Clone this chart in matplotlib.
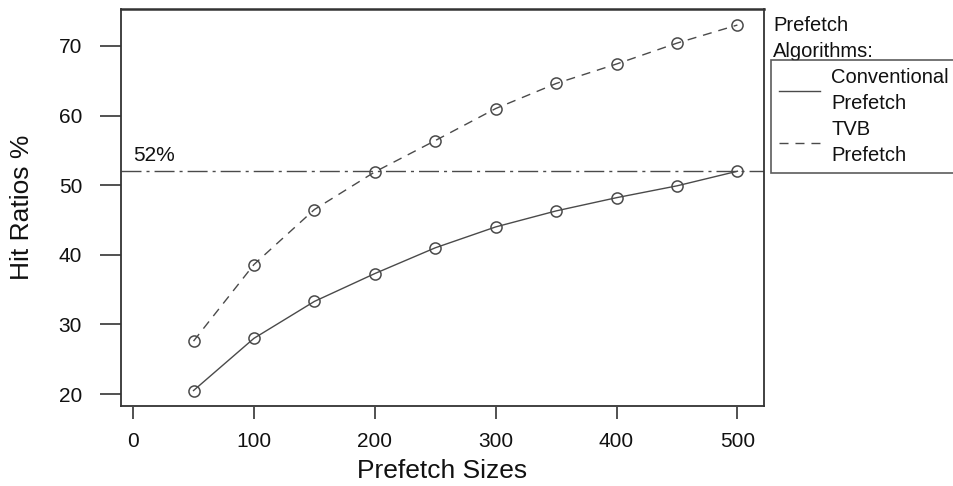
import numpy as np
import matplotlib.pyplot as plt

plt.rcParams['font.family'] = ['Liberation Sans', 'DejaVu Sans']

sizes = [50, 100, 150, 200, 250, 300, 350, 400, 450, 500]
conventional = [20.5, 28.0, 33.3, 37.3, 41.0, 44.0, 46.3, 48.2, 49.9, 52.0]
tvb = [27.6, 38.6, 46.5, 51.9, 56.4, 61.0, 64.6, 67.4, 70.4, 73.0]
x_ticks = [0, 100, 200, 300, 400, 500]
y_ticks = [20, 30, 40, 50, 60, 70]
ref_level = 52

W, H = 954, 486
fig = plt.figure(figsize=(W / 100, H / 100), dpi=100)
ax = fig.add_axes([121 / W, 1 - 406 / H, (764 - 121) / W, (406 - 9) / H])

line_col = '#4a4a4a'
frame_col = '#333333'
text_col = '#111111'

ax.plot(sizes, conventional, '-', color=line_col, lw=1.0, marker='o', ms=8,
        mfc='none', mec=line_col, mew=1.1, label='Conventional\nPrefetch')
ax.plot(sizes, tvb, color=line_col, lw=1.0, ls=(0, (6.5, 5)), marker='o', ms=8,
        mfc='none', mec=line_col, mew=1.1, label='TVB\nPrefetch')
ax.axhline(ref_level, color=line_col, lw=1.0, ls=(0, (14.4, 3.6, 2.2, 3.6)))
ax.text(0, ref_level + 1.4, '52%', fontsize=15, color=text_col, ha='left', va='baseline')

ax.set_xlim(-10, 522)
ax.set_ylim(18.28, 75.3)
ax.set_xticks(x_ticks)
ax.set_yticks(y_ticks)
ax.tick_params(axis='both', labelsize=15, labelcolor=text_col, color=frame_col,
               width=1.2, direction='out')
ax.tick_params(axis='x', length=8.6, pad=9)
ax.tick_params(axis='y', length=15, pad=13)

for s in ax.spines.values():
    s.set_color(frame_col)
    s.set_linewidth(1.3)
ax.spines['top'].set_linewidth(1.8)
# bottom ticks sit just below the frame
ax.spines['bottom'].set_position(('outward', 1))
ax.spines['bottom'].set_visible(False)
ax.axhline(18.28, color=frame_col, lw=1.3, clip_on=False)

ax.set_xlabel('Prefetch Sizes', fontsize=19, color=text_col)
ax.xaxis.set_label_coords(0.5, (406 - 478) / 397)
ax.xaxis.label.set_va('baseline')
ax.set_ylabel('Hit Ratios %', fontsize=19, color=text_col)
ax.yaxis.set_label_coords((22 - 121) / 643, 0.5)
ax.yaxis.label.set_va('center')

fig.text(773 / W, 1 - 31 / H, 'Prefetch', fontsize=14.5, ha='left',
         va='baseline', color=text_col)
fig.text(773 / W, 1 - 57 / H, 'Algorithms:', fontsize=14.5, ha='left',
         va='baseline', color=text_col)
leg = fig.legend(loc='upper left', bbox_to_anchor=(771 / W, 1 - 60 / H),
                 fontsize=14.5, frameon=True, fancybox=False, borderpad=0.4,
                 handlelength=2.05, handletextpad=0.55, labelspacing=0.35,
                 borderaxespad=0, edgecolor=frame_col)
leg.get_frame().set_linewidth(1.2)
for t in leg.get_texts():
    t.set_linespacing(1.45)
    t.set_color(text_col)
for h in leg.legend_handles:
    h.set_marker('')

fig.savefig('out.png', dpi=100)
